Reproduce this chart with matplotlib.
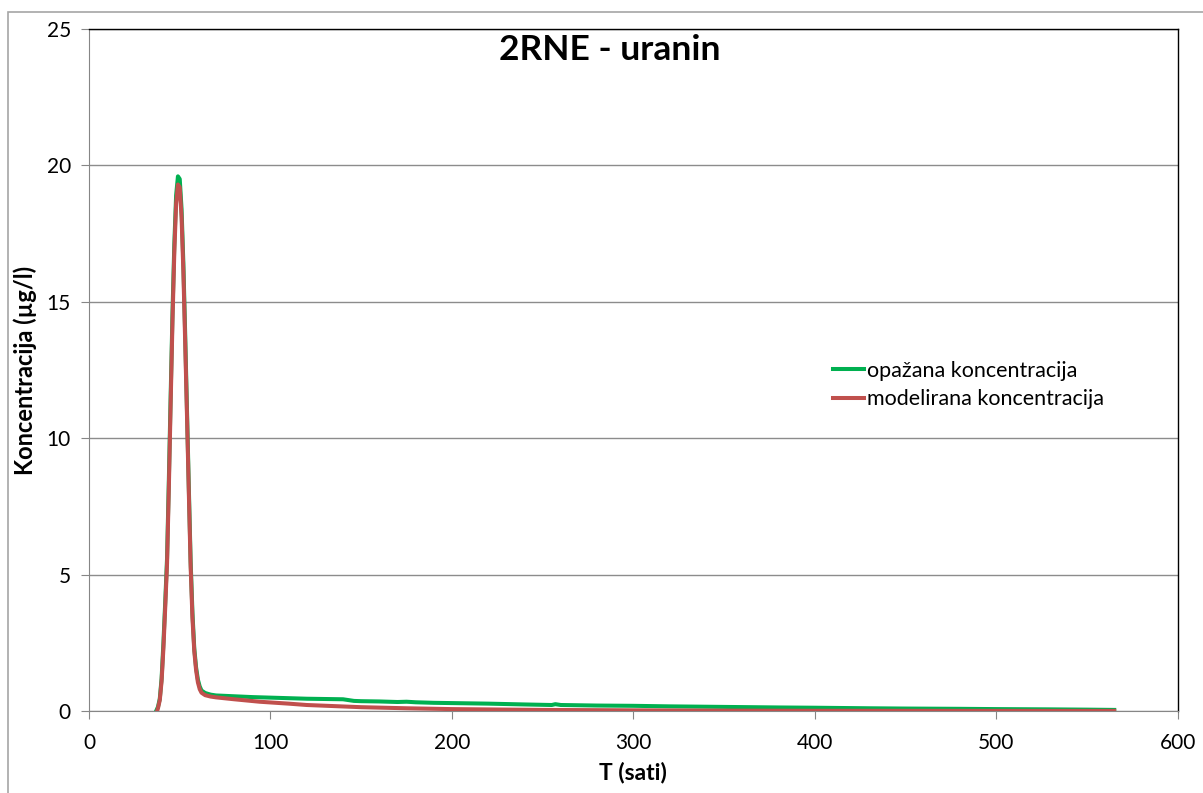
import matplotlib.pyplot as plt
from matplotlib.patches import Rectangle

plt.rcParams['font.family'] = ['Lato', 'DejaVu Sans']

t_obs = [37, 38, 39, 40, 41, 42, 43, 44, 45, 46, 47, 48, 49, 50, 51, 52, 53, 54, 55,
         56, 57, 58, 59, 60, 61, 62, 64, 67, 70, 80, 90, 100, 110, 120, 130, 140, 143,
         146, 150, 160, 170, 175, 180, 190, 200, 220, 240, 255, 257, 260, 280, 300,
         320, 350, 380, 400, 430, 450, 480, 500, 530, 550, 565]
c_obs = [0.0, 0.15, 0.45, 1.2, 2.5, 4.0, 5.6, 8.5, 11.6, 14.6, 17.1, 18.9, 19.6, 19.5,
         18.4, 16.4, 13.8, 11.0, 8.2, 5.5, 3.6, 2.3, 1.6, 1.15, 0.9, 0.75, 0.66, 0.6,
         0.57, 0.54, 0.51, 0.49, 0.47, 0.45, 0.44, 0.43, 0.40, 0.37, 0.36, 0.35, 0.33,
         0.34, 0.32, 0.30, 0.29, 0.27, 0.24, 0.22, 0.25, 0.22, 0.20, 0.19, 0.17, 0.15,
         0.13, 0.12, 0.10, 0.09, 0.08, 0.07, 0.06, 0.05, 0.04]

# modelled concentration
t_mod = [37.5, 38, 39, 40, 41, 42, 43, 44, 45, 46, 47, 48, 49, 50, 51, 52, 53, 54, 55,
         56, 57, 58, 59, 60, 61, 62, 64, 67, 70, 80, 94, 110, 120, 135, 150, 175, 200,
         250, 300, 350, 400, 450, 500, 565]
c_mod = [0.0, 0.1, 0.4, 1.1, 2.3, 3.8, 5.4, 8.2, 11.3, 14.3, 16.8, 18.6, 19.3, 19.2,
         18.1, 16.1, 13.5, 10.8, 8.0, 5.3, 3.4, 2.2, 1.5, 1.05, 0.8, 0.67, 0.58, 0.53,
         0.5, 0.43, 0.34, 0.27, 0.22, 0.18, 0.14, 0.1, 0.07, 0.04, 0.025, 0.015, 0.01,
         0.008, 0.006, 0.005]

fig = plt.figure(figsize=(12.03, 7.93), dpi=100)
ax = fig.add_axes([0.074, 0.1034, 0.905, 0.86])

# outer chart border (runs off the right and bottom edges)
top = 1 - 12 / 793
fig.patches.append(Rectangle((8 / 1203, -0.01), 1.1, top + 0.01,
                             transform=fig.transFigure, fill=False,
                             edgecolor='#a6a6a6', linewidth=1.2))

ax.plot(t_obs, c_obs, color='#00B050', lw=2.9, label='opažana koncentracija', zorder=3)
ax.plot(t_mod, c_mod, color='#C0504D', lw=2.9, label='modelirana koncentracija', zorder=4)

ax.set_xlim(0, 600)
ax.set_ylim(0, 25)
ax.set_xticks(range(0, 601, 100))
ax.set_yticks(range(0, 26, 5))
ax.yaxis.grid(True, color='#8c8c8c', lw=1.0)
ax.set_axisbelow(True)

for s in ['left', 'bottom']:
    ax.spines[s].set_color('#868686')
for s in ['top', 'right']:
    ax.spines[s].set_color('black')
    ax.spines[s].set_linewidth(1.0)
ax.tick_params(axis='both', direction='out', length=6, color='#868686',
               labelsize=15)
ax.tick_params(axis='x', pad=10)
ax.tick_params(axis='y', pad=7)

ax.set_xlabel('T (sati)', fontsize=16.5, fontweight='bold', labelpad=6)
ax.set_ylabel('Koncentracija (µg/l)', fontsize=17, fontweight='bold', labelpad=7)
ax.text(0.478, 0.969, '2RNE - uranin', transform=ax.transAxes, ha='center', va='center',
        fontsize=25.5, fontweight='bold')

ax.legend(loc='center left', bbox_to_anchor=(0.675, 0.478), frameon=False, fontsize=15.5,
          handlelength=1.45, handletextpad=0.15, labelspacing=0.4, borderaxespad=0)

fig.savefig('out.png', dpi=100)
